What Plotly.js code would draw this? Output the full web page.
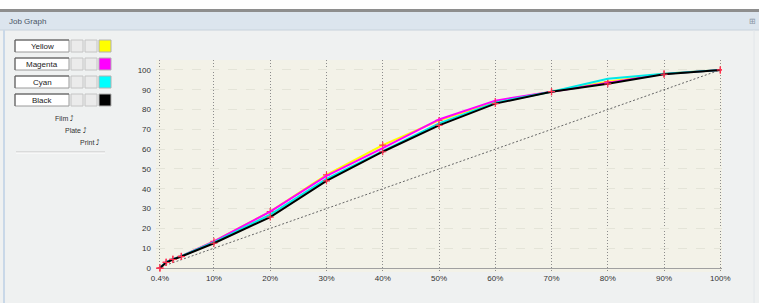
<!DOCTYPE html>
<html><head><meta charset="utf-8">
<script src="https://cdn.plot.ly/plotly-3.0.1.min.js"></script>
<style>html,body{margin:0;padding:0;background:#eff1f1;}#chart{width:759px;height:303px;}</style>
</head><body><div id="chart"></div>
<script>
// ---- data ----
const inputPct = [0.4, 1.5, 2.7, 4.2, 10, 20, 30, 40, 50, 60, 70, 80, 90, 100];
const yellow  = [0, 3.0, 4.5, 6.0, 13.5, 28.5, 47.0, 62.0, 74.5, 84.0, 89.0, 94.0, 98.0, 100];
const magenta = [0, 3.0, 4.5, 6.0, 13.5, 28.5, 46.5, 60.5, 75.0, 84.5, 89.0, 93.5, 98.0, 100];
const cyan    = [0, 3.0, 4.5, 6.0, 13.0, 27.0, 45.0, 59.0, 73.0, 83.5, 89.0, 95.5, 98.0, 100];
const black   = [0, 2.8, 4.3, 5.8, 12.5, 25.7, 44.0, 58.7, 72.0, 83.0, 89.0, 93.0, 97.8, 100];
const linearX = [0, 100];
const linearY = [0, 100];
const xTickVals = [0.4, 10, 20, 30, 40, 50, 60, 70, 80, 90, 100];
const xTickText = ['0.4%', '10%', '20%', '30%', '40%', '50%', '60%', '70%', '80%', '90%', '100%'];
const yTickVals = [0, 10, 20, 30, 40, 50, 60, 70, 80, 90, 100];
const legendNames = ['Yellow', 'Magenta', 'Cyan', 'Black'];
const legendColors = ['#ffff00', '#ff00ff', '#00ffff', '#000000'];
const extraLabels = ['Film', 'Plate', 'Print'];

// ---- layout helpers (pixel -> paper) ----
const ML = 156, MR = 37, MT = 60, MB = 31, W = 759, H = 303;
const PW = W - ML - MR, PH = H - MT - MB;
const X = px => (px - ML) / PW;
const Y = py => (H - MB - py) / PH;

const font = 'Liberation Sans, Arial, sans-serif';
const lineTrace = (y, color, name, withMarkers) => ({
  x: inputPct, y: y, name: name, type: 'scatter',
  mode: withMarkers ? 'lines+markers' : 'lines',
  line: {color: color, width: 2},
  marker: {symbol: 'cross-thin', size: 5, line: {color: '#ff3050', width: 1.2}, color: '#ff3050'},
  hoverinfo: 'skip'
});

const traces = [
  {x: linearX, y: linearY, type: 'scatter', mode: 'lines', line: {color: '#666', width: 1, dash: '2px,2px'}, hoverinfo: 'skip'},
  lineTrace(yellow, '#ffff00', 'Yellow', true),
  lineTrace(magenta, '#ff00ff', 'Magenta', false),
  lineTrace(cyan, '#00e8e8', 'Cyan', false),
  lineTrace(black, '#000000', 'Black', true)
];

const shapes = [];
const annotations = [];
const rect = (x0, y0, x1, y1, fill, lineColor, lw) => shapes.push({
  type: 'rect', xref: 'paper', yref: 'paper', x0: X(x0), x1: X(x1), y0: Y(y1), y1: Y(y0),
  fillcolor: fill, line: {color: lineColor || fill, width: lw === undefined ? 0 : lw}
});
const line = (x0, y0, x1, y1, color, lw) => shapes.push({
  type: 'line', xref: 'paper', yref: 'paper', x0: X(x0), x1: X(x1), y0: Y(y0), y1: Y(y1),
  line: {color: color, width: lw}
});

// window chrome
rect(0, 0, 759, 9, '#ffffff');
rect(0, 9, 759, 12, '#8e8e8e');
rect(0, 12, 759, 30, '#dce5ee');
line(0, 30, 759, 30, '#c8d2dc', 1);
line(4, 30, 4, 303, '#c9d8e8', 2);
line(754, 30, 754, 303, '#e2e6ea', 1);
annotations.push({xref: 'paper', yref: 'paper', x: X(7), y: Y(21), xanchor: 'left', yanchor: 'middle',
  text: 'Job Graph', showarrow: false, font: {family: font, size: 8, color: '#4a5566'}});
annotations.push({xref: 'paper', yref: 'paper', x: X(752), y: Y(21), xanchor: 'center', yanchor: 'middle',
  text: '⊞', showarrow: false, font: {family: font, size: 8, color: '#8a96a4'}});

// legend panel
const rowTops = [40, 58, 76, 94];
legendNames.forEach((n, i) => {
  const t = rowTops[i], b = t + 12;
  rect(15, t, 69, b, '#ffffff', '#9a9a9a', 1);
  line(15, t, 69, t, '#5a5a5a', 1);
  line(15, t, 15, b, '#5a5a5a', 1);
  rect(71, t, 83, b, '#ebebeb', '#c4c4c4', 1);
  rect(85, t, 97, b, '#ebebeb', '#c4c4c4', 1);
  rect(99, t, 111, b, legendColors[i], '#b0b0b0', 1);
  annotations.push({xref: 'paper', yref: 'paper', x: X(42), y: Y(t + 6.5), xanchor: 'center', yanchor: 'middle',
    text: n, showarrow: false, font: {family: font, size: 8, color: '#222'}});
});
const extraPos = [[64, 118], [76, 130], [90, 142]];
extraLabels.forEach((t, i) => {
  annotations.push({xref: 'paper', yref: 'paper', x: X(extraPos[i][0]), y: Y(extraPos[i][1]), xanchor: 'center', yanchor: 'middle',
    text: t + ' \u2934', showarrow: false, font: {family: font, size: 7, color: '#333'}});
});
line(16, 152, 105, 152, '#c4c4c4', 1);
line(16, 153, 105, 153, '#ffffff', 1);

const layout = {
  width: W, height: H,
  margin: {l: ML, r: MR, t: MT, b: MB, pad: 0},
  paper_bgcolor: '#eff1f1', plot_bgcolor: '#f3f2e8',
  showlegend: false,
  font: {family: font, size: 8, color: '#333'},
  xaxis: {
    range: [-0.3, 100.3], tickvals: xTickVals, ticktext: xTickText,
    showgrid: true, gridcolor: '#8c8c8c', griddash: '1px,2px', gridwidth: 1,
    zeroline: false, showline: false, ticks: '', fixedrange: true,
    tickfont: {family: font, size: 8, color: '#333'}
  },
  yaxis: {
    range: [-2, 105], tickvals: yTickVals,
    showgrid: true, gridcolor: '#e4e4d8', griddash: 'dash', gridwidth: 1,
    zeroline: true, zerolinecolor: '#a0a0a0', zerolinewidth: 1,
    showline: false, ticks: '', fixedrange: true, ticklabelstandoff: 4,
    tickfont: {family: font, size: 8, color: '#333'}
  },
  shapes: shapes,
  annotations: annotations
};

Plotly.newPlot('chart', traces, layout, {staticPlot: true, displayModeBar: false});
</script></body></html>
